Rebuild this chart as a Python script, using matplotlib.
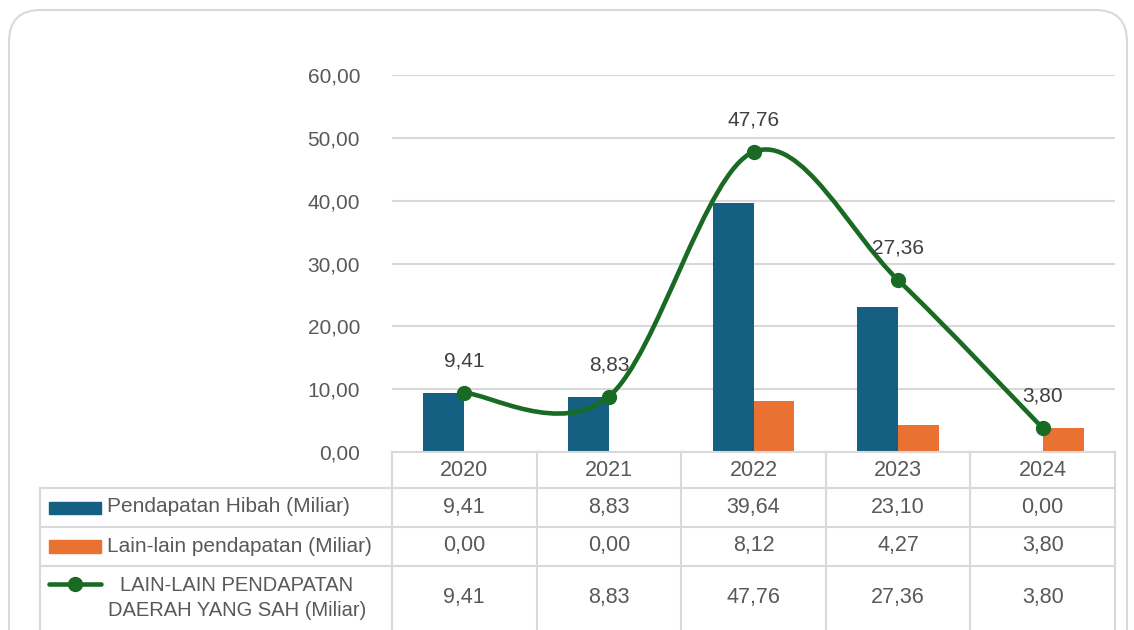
import matplotlib
matplotlib.use("Agg")
import matplotlib.pyplot as plt
import matplotlib.transforms as mtransforms
from matplotlib.path import Path
from matplotlib.patches import PathPatch, FancyBboxPatch, Rectangle
from matplotlib.lines import Line2D

# ---------------- data ----------------
years = ["2020", "2021", "2022", "2023", "2024"]
hibah = [9.41, 8.83, 39.64, 23.10, 0.00]
lain = [0.00, 0.00, 8.12, 4.27, 3.80]
total = [9.41, 8.83, 47.76, 27.36, 3.80]
series_names = ["Pendapatan Hibah (Miliar)",
                "Lain-lain pendapatan (Miliar)",
                "LAIN-LAIN PENDAPATAN\nDAERAH YANG SAH (Miliar)"]
yticks = [0, 10, 20, 30, 40, 50, 60]

# ---------------- style ----------------
BLUE = "#156082"
ORANGE = "#E97132"
GREEN = "#196B24"
GRID = "#D9D9D9"
TXT = "#595959"
LBL = "#404040"
W, H = 1134, 630

def fmt(v):
    return f"{v:.2f}".replace(".", ",")

plt.rcParams['font.family'] = ['Liberation Sans', 'DejaVu Sans']

fig = plt.figure(figsize=(W / 100, H / 100), dpi=100)

def fx(px):
    return px / W

def fy(py):
    return 1 - py / H

# outer rounded frame
frame = FancyBboxPatch((fx(9), fy(700)), fx(1127) - fx(9), fy(10) - fy(700),
                       boxstyle="round,pad=0,rounding_size=0.028",
                       transform=fig.transFigure, facecolor="white",
                       edgecolor=GRID, lw=1.5, zorder=-5, mutation_aspect=W / H)
fig.patches.append(frame)

ax_l, ax_r, ax_t, ax_b = 392, 1115, 75, 452
ax = fig.add_axes([fx(ax_l), fy(ax_b), fx(ax_r) - fx(ax_l), fy(ax_t) - fy(ax_b)])
ax.set_facecolor("none")
n = len(years)
x = list(range(n))
ax.set_xlim(-0.5, n - 0.5)
ax.set_ylim(0, 60)
for s in ax.spines.values():
    s.set_visible(False)
ax.set_yticks(yticks)
ax.set_yticklabels([fmt(v) for v in yticks], color=TXT, fontsize=15)
ax.tick_params(axis="y", length=0, pad=23)
ax.set_xticks([])
ax.grid(axis="y", color=GRID, lw=1.5, zorder=0)
ax.set_axisbelow(True)

bw = 0.283
ax.bar([i - bw / 2 for i in x], hibah, width=bw, color=BLUE, zorder=2)
ax.bar([i + bw / 2 for i in x], lain, width=bw, color=ORANGE, zorder=2)

# smoothed line (Catmull-Rom -> cubic Bezier)
verts = [(x[0], total[0])]
codes = [Path.MOVETO]
for i in range(n - 1):
    p0 = (x[max(i - 1, 0)], total[max(i - 1, 0)])
    p1 = (x[i], total[i])
    p2 = (x[i + 1], total[i + 1])
    p3 = (x[min(i + 2, n - 1)], total[min(i + 2, n - 1)])
    c1 = (p1[0] + (p2[0] - p0[0]) / 6, p1[1] + (p2[1] - p0[1]) / 6)
    c2 = (p2[0] - (p3[0] - p1[0]) / 6, p2[1] - (p3[1] - p1[1]) / 6)
    verts += [c1, c2, p2]
    codes += [Path.CURVE4] * 3
ax.add_patch(PathPatch(Path(verts, codes), fill=False, edgecolor=GREEN,
                       lw=3.3, zorder=3, capstyle="round"))
ax.plot(x, total, "o", color=GREEN, ms=10, zorder=4)
for xi, v in zip(x, total):
    ax.annotate(fmt(v), (xi, v), xytext=(0, 23), textcoords="offset points",
                ha="center", va="center", fontsize=15, color=LBL, zorder=5)

# ---------------- data table ----------------
bt = mtransforms.blended_transform_factory(ax.transData, fig.transFigure)
ft = fig.transFigure
rows_y = [452, 488, 527, 566]
bottom_y = 700

fig.add_artist(Line2D([fx(392), fx(1115)], [fy(452), fy(452)], color=GRID, lw=1.5, transform=ft))
for ry in rows_y[1:]:
    fig.add_artist(Line2D([fx(40), fx(1115)], [fy(ry), fy(ry)], color=GRID, lw=1.5, transform=ft))
fig.add_artist(Line2D([fx(40), fx(40)], [fy(488), fy(bottom_y)], color=GRID, lw=1.5, transform=ft))
for i in range(n + 1):
    fig.add_artist(Line2D([i - 0.5, i - 0.5], [fy(452), fy(bottom_y)], color=GRID, lw=1.5,
                          transform=bt, clip_on=False))

row_text_y = [471, 507.5, 546, 598]
for i in x:
    fig.text(i, fy(row_text_y[0]), years[i], transform=bt, ha="center", va="center",
             fontsize=15.5, color=TXT)
    for r, arr in enumerate([hibah, lain, total], start=1):
        fig.text(i, fy(row_text_y[r]), fmt(arr[i]), transform=bt, ha="center", va="center",
                 fontsize=15.5, color=TXT)

fig.patches.append(Rectangle((fx(49), fy(514)), fx(101) - fx(49), fy(502) - fy(514),
                             transform=ft, color=BLUE))
fig.patches.append(Rectangle((fx(49), fy(553)), fx(101) - fx(49), fy(540) - fy(553),
                             transform=ft, color=ORANGE))
fig.add_artist(Line2D([fx(49), fx(101)], [fy(584), fy(584)], color=GREEN, lw=3.3,
                      solid_capstyle="round", transform=ft))
fig.add_artist(Line2D([fx(75)], [fy(584)], marker="o", ms=10, color=GREEN, transform=ft))

fig.text(fx(107), fy(507), series_names[0], ha="left", va="center", fontsize=15, color=TXT)
fig.text(fx(107), fy(546), series_names[1], ha="left", va="center", fontsize=15, color=TXT)
fig.text(fx(237), fy(598), series_names[2], ha="center", va="center", fontsize=14.5,
         color=TXT, linespacing=1.45)

fig.savefig("out.png", dpi=100)
